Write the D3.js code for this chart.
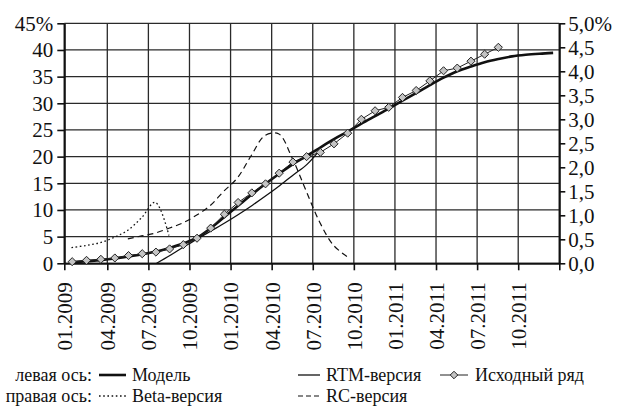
<!DOCTYPE html>
<html>
<head>
<meta charset="utf-8">
<script src="https://cdn.jsdelivr.net/npm/d3@7"></script>
<style>
  html, body { margin: 0; padding: 0; background: #fff; }
  svg text { font-family: "Liberation Serif", "Tinos", serif; fill: #111; }
</style>
</head>
<body>
<svg id="chart" width="618" height="406"></svg>
<script>
// ---------------- DATA ----------------
const tickLabels = ["01.2009","04.2009","07.2009","10.2009","01.2010","04.2010",
                    "07.2010","10.2010","01.2011","04.2011","07.2011","10.2011",""];
const leftTicks  = [0,5,10,15,20,25,30,35,40,45];
const rightTicks = [0,0.5,1,1.5,2,2.5,3,3.5,4,4.5,5];

// left axis, %: source series (months 0..31)
const actualVals = [0.3,0.55,0.75,1.0,1.45,1.8,2.1,2.7,3.5,4.7,6.6,9.2,11.4,13.2,14.9,16.9,
                    19.0,20.0,20.8,22.4,24.4,27.0,28.6,29.25,31.1,32.4,34.2,36.1,36.6,37.9,39.2,40.5];
// left axis, %: model (months 0..35)
const modelVals  = [0.2,0.4,0.6,0.9,1.3,1.7,2.2,2.9,3.7,4.8,6.6,8.7,10.8,12.9,14.9,16.8,18.6,
                    20.1,21.7,23.3,24.7,26.2,27.6,29.0,30.5,31.9,33.4,34.8,36.0,36.9,37.7,38.3,
                    38.8,39.1,39.3,39.45];
// left axis, %: RTM version (months 6..18)
const rtmStart = 6;
const rtmVals    = [0,1.5,3.1,4.6,6.1,7.6,9.2,10.9,12.7,14.6,16.6,18.6,21.5];
// right axis, %: Beta version (months 0..7)
const betaStart = 0;
const betaVals   = [0.325,0.37,0.43,0.54,0.69,0.95,1.27,0.58];
// right axis, %: RC version (months 4..20)
const rcStart = 4;
const rcVals     = [0.51,0.57,0.63,0.73,0.84,1.0,1.2,1.5,1.78,2.24,2.66,2.7,2.19,1.52,0.86,0.38,0.14];

// ---------------- LAYOUT ----------------
const FONT = "'Liberation Serif', 'Tinos', serif";
const svg = d3.select("#chart");
const X0 = 64.3, X1 = 559.3, Y0 = 263.3, Y1 = 23.3;

const x  = d3.scaleLinear().domain([0, 3, 36]).range([X0, 107.3, X1]);
const yL = d3.scaleLinear().domain([0, 45]).range([Y0, Y1]);
const yR = d3.scaleLinear().domain([0, 5]).range([Y0, Y1]);

const quarterTicks = d3.range(0, 37, 3);

const grid = svg.append("g").attr("stroke", "#2a2a2a").attr("stroke-width", 1.3);
grid.selectAll("line.h").data(leftTicks).join("line")
  .attr("x1", X0).attr("x2", X1)
  .attr("y1", d => yL(d)).attr("y2", d => yL(d));
grid.selectAll("line.v").data(quarterTicks).join("line")
  .attr("x1", d => x(d)).attr("x2", d => x(d))
  .attr("y1", Y1).attr("y2", Y0);

const fmtL = d => d === 45 ? "45%" : String(d);
const fmtR = d => d.toFixed(1).replace(".", ",") + (d === 5 ? "%" : "");

const axL = svg.append("g").attr("transform", `translate(${X0},0)`)
  .call(d3.axisLeft(yL).tickValues(leftTicks).tickFormat(fmtL).tickSize(7).tickPadding(4).tickSizeOuter(0));
const axR = svg.append("g").attr("transform", `translate(${X1},0)`)
  .call(d3.axisRight(yR).tickValues(rightTicks).tickFormat(fmtR).tickSize(6).tickPadding(3).tickSizeOuter(0));
const axB = svg.append("g").attr("transform", `translate(0,${Y0})`)
  .call(d3.axisBottom(x).tickValues(quarterTicks).tickFormat((d, i) => tickLabels[i]).tickSize(7).tickSizeOuter(0));

[axL, axR, axB].forEach(a => {
  a.attr("font-family", FONT).attr("font-size", 21);
  a.select(".domain").attr("stroke", "#111").attr("stroke-width", 2);
  a.selectAll(".tick line").attr("stroke", "#111").attr("stroke-width", 1.6);
  a.selectAll(".tick text").attr("font-size", 21).attr("fill", "#111")
    .style("font-family", FONT);
});
axB.selectAll(".tick text")
  .attr("text-anchor", "end")
  .attr("transform", "rotate(-90)")
  .attr("x", -19).attr("y", 0).attr("dy", "0.35em");

// ---------------- SERIES ----------------
const lineL = (offset, start) => d3.line()
  .x((d, i) => x(start + i + offset)).y(d => yL(d));
const lineR = (offset, start) => d3.line()
  .x((d, i) => x(start + i + offset)).y(d => yR(d));

svg.append("path")
  .attr("fill", "none").attr("stroke", "#111").attr("stroke-width", 1.3)
  .attr("stroke-dasharray", "1.6,2.6")
  .attr("d", lineR(0.5, betaStart).curve(d3.curveCatmullRom)(betaVals));

svg.append("path")
  .attr("fill", "none").attr("stroke", "#111").attr("stroke-width", 1.2)
  .attr("stroke-dasharray", "6,4")
  .attr("d", lineR(0.5, rcStart).curve(d3.curveCatmullRom)(rcVals));

svg.append("path")
  .attr("fill", "none").attr("stroke", "#111").attr("stroke-width", 1.3)
  .attr("d", lineL(0.6, rtmStart).curve(d3.curveCatmullRom)(rtmVals));

svg.append("path")
  .attr("fill", "none").attr("stroke", "#111").attr("stroke-width", 2.6)
  .attr("d", lineL(0.55, 0).curve(d3.curveCatmullRom)(modelVals));

svg.append("path")
  .attr("fill", "none").attr("stroke", "#222").attr("stroke-width", 1)
  .attr("d", lineL(0.55, 0)(actualVals));
const diamond = d3.symbol().type(d3.symbolDiamond2).size(42);
svg.append("g").selectAll("path").data(actualVals).join("path")
  .attr("transform", (d, i) => `translate(${x(i + 0.55)},${yL(d)})`)
  .attr("d", diamond)
  .attr("fill", "#c4c4c4").attr("stroke", "#222").attr("stroke-width", 1);

// ---------------- LEGEND ----------------
const lg = svg.append("g").attr("font-size", 18).attr("font-family", FONT);
const r1 = 375, r2 = 396;
lg.append("text").attr("x", 92).attr("y", r1).attr("dy", "0.35em").attr("text-anchor", "end").text("левая ось:");
lg.append("text").attr("x", 92).attr("y", r2).attr("dy", "0.35em").attr("text-anchor", "end").text("правая ось:");

lg.append("line").attr("x1", 99).attr("x2", 126).attr("y1", r1).attr("y2", r1)
  .attr("stroke", "#111").attr("stroke-width", 2.6);
lg.append("text").attr("x", 132).attr("y", r1).attr("dy", "0.35em").text("Модель");

lg.append("line").attr("x1", 298).attr("x2", 320).attr("y1", r1).attr("y2", r1)
  .attr("stroke", "#111").attr("stroke-width", 1.3);
lg.append("text").attr("x", 326).attr("y", r1).attr("dy", "0.35em").text("RTM-версия");

lg.append("line").attr("x1", 440).attr("x2", 468).attr("y1", r1).attr("y2", r1)
  .attr("stroke", "#222").attr("stroke-width", 1);
lg.append("path").attr("transform", `translate(454,${r1})`).attr("d", d3.symbol().type(d3.symbolDiamond2).size(36))
  .attr("fill", "#c4c4c4").attr("stroke", "#222").attr("stroke-width", 1);
lg.append("text").attr("x", 475).attr("y", r1).attr("dy", "0.35em").text("Исходный ряд");

lg.append("line").attr("x1", 99).attr("x2", 126).attr("y1", r2).attr("y2", r2)
  .attr("stroke", "#111").attr("stroke-width", 1.3).attr("stroke-dasharray", "1.6,2.6");
lg.append("text").attr("x", 132).attr("y", r2).attr("dy", "0.35em").text("Beta-версия");

lg.append("line").attr("x1", 298).attr("x2", 320).attr("y1", r2).attr("y2", r2)
  .attr("stroke", "#111").attr("stroke-width", 1.2).attr("stroke-dasharray", "5,3");
lg.append("text").attr("x", 326).attr("y", r2).attr("dy", "0.35em").text("RC-версия");
</script>
</body>
</html>
